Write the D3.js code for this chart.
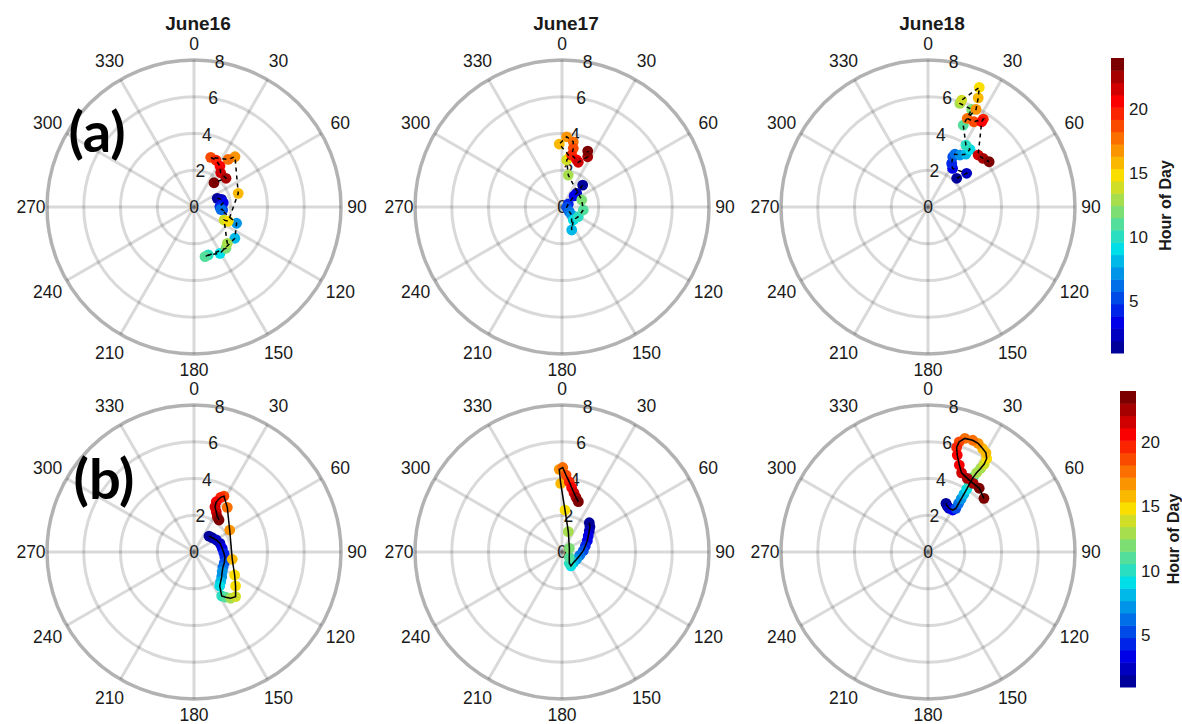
<!DOCTYPE html>
<html>
<head>
<meta charset="utf-8">
<script src="https://cdn.jsdelivr.net/npm/d3@7"></script>
<style>
	body { margin: 0; background: #fff; }
	svg { display: block; }
	text { font-family: "Liberation Sans", Arial, sans-serif; fill: #1a1a1a; }
</style>
</head>
<body>
<svg id="chart" width="1182" height="724"></svg>
<script>
const dayTitles = ["June16", "June17", "June18"];
const angleTicks = d3.range(0, 360, 30);
const radialTicks = [0, 2, 4, 6, 8];
const colorTicks = [5, 10, 15, 20];

// row (a): hourly values, dashed line
const hourA = d3.range(1, 25);
const thetaA16 = [69.5, 74.5, 81.6, 89, 96, 95, 110.9, 127.4, 150.7, 163.4, 167.5, 142.2, 137.5, 113.4, 112.6, 72.8, 39.2, 35.7, 18.6, 25.1, 32.4, 37.9, 48.1, 39.5];
const speedA16 = [1.35, 1.56, 1.61, 1.41, 1.57, 1.46, 2.48, 2.80, 2.89, 2.72, 2.77, 2.84, 2.68, 1.78, 2.02, 2.52, 3.53, 3.19, 2.85, 2.82, 2.64, 2.36, 2.34, 1.71];
const thetaA17 = [43.3, 47, 47.5, 64.5, 93, 122.8, 129.5, 157.1, 139, 120.8, 98, 70.4, 11.1, 5.7, 9, 357.5, 3.8, 9.8, 10.9, 10.6, 17.4, 20, 27.1, 24.7];
const speedA17 = [1.64, 1.09, 0.89, 0.38, 0.26, 0.47, 0.68, 1.36, 0.94, 1.03, 1.17, 1.14, 1.77, 2.57, 2.77, 3.43, 3.83, 3.60, 3.25, 2.87, 2.68, 2.59, 3.07, 3.35];
const thetaA18 = [45, 48.9, 32.5, 28.5, 26.2, 27, 31.6, 35.6, 36, 31.5, 23.3, 24.1, 17.1, 17.5, 23.2, 24.7, 26.2, 23.9, 28.3, 32.2, 32.2, 44, 48.6, 53.5];
const speedA18 = [2.21, 2.79, 2.49, 2.70, 3.05, 3.23, 3.32, 3.54, 3.88, 3.95, 4.85, 5.82, 5.90, 6.10, 7.08, 6.54, 5.92, 5.27, 5.27, 5.65, 5.48, 3.93, 4.00, 4.14];

// row (b): denser track, solid line
const hourB16 = [1, 1.5, 2, 2.5, 3, 4, 4.5, 5, 6, 7, 7.5, 8.5, 9.5, 10.5, 11.5, 12.5, 13.5, 14.5, 15, 16, 17, 18, 19, 20, 21, 21.5, 22, 23, 24];
const thetaB16 = [43.2, 52, 61.7, 71.5, 82.6, 92.5, 99.7, 109.5, 117.8, 124.8, 131.7, 138, 142.9, 147.8, 145, 141.6, 137, 129.2, 119.5, 100.8, 58.4, 36.7, 28.2, 26, 23.9, 24.9, 29, 33.4, 38];
const speedB16 = [1.19, 1.26, 1.38, 1.49, 1.55, 1.63, 1.71, 1.75, 1.78, 1.87, 2.02, 2.17, 2.32, 2.83, 3.0, 3.21, 3.32, 2.92, 2.54, 2.12, 2.28, 3.03, 3.45, 3.31, 2.99, 2.71, 2.50, 2.30, 2.21];
const hourB17 = [1, 1.5, 2, 3, 3.5, 4.5, 5.5, 6.5, 7.5, 8.5, 9.5, 10.5, 11, 12, 13, 14.5, 16, 17, 17.5, 19, 20, 21, 22, 23, 24];
const thetaB17 = [43, 47.9, 52.4, 58.7, 65.9, 75.6, 86.5, 100.4, 116.4, 133.4, 147.3, 147.1, 126, 63, 17.2, 4.1, 358.9, 358.1, 0.5, 3, 5.9, 8.5, 11.4, 14.4, 18];
const speedB17 = [2.18, 2.05, 1.87, 1.67, 1.51, 1.31, 1.16, 0.99, 0.89, 0.85, 0.90, 0.73, 0.49, 0.45, 1.16, 2.29, 3.73, 4.50, 4.60, 4.19, 3.84, 3.55, 3.29, 3.07, 2.88];
const hourB18 = [1, 1.5, 2.5, 3.5, 5, 6.5, 7.5, 8.5, 9.5, 10.5, 11.5, 12.5, 13, 14, 15, 15.5, 16, 17, 17.5, 18, 19, 20, 20.5, 21, 22, 22.5, 23, 23.5, 24];
const thetaB18 = [20.3, 22.8, 26, 30.5, 32.6, 32.2, 32, 31.8, 31.6, 31.3, 31.2, 31.5, 32.2, 32.6, 32.1, 30.3, 27.8, 24.8, 21.8, 18, 15.8, 15.3, 16.8, 19.8, 23, 28.1, 33.4, 38.8, 46.2];
const speedB18 = [2.82, 2.71, 2.64, 2.65, 2.82, 3.13, 3.41, 3.71, 4.02, 4.33, 4.75, 5.06, 5.37, 5.68, 6.01, 6.25, 6.37, 6.51, 6.55, 6.50, 6.23, 5.90, 5.51, 5.03, 4.68, 4.54, 4.47, 4.45, 4.22];

// MATLAB style jet(m), toned down a little like the printed figure
function jet(m) {
	const n = Math.ceil(m / 4);
	const u = [];
	for (let i = 1; i <= n; i++) u.push(i / n);
	for (let i = 1; i < n; i++) u.push(1);
	for (let i = n; i >= 1; i--) u.push(i / n);
	const g0 = Math.ceil(n / 2) - (m % 4 === 1 ? 1 : 0);
	const out = d3.range(m).map(() => [0, 0, 0]);
	u.forEach((val, k) => {
		const g = g0 + k + 1;
		if (g >= 1 && g <= m) out[g - 1][1] = val;
		if (g + n >= 1 && g + n <= m) out[g + n - 1][0] = val;
		if (g - n >= 1 && g - n <= m) out[g - n - 1][2] = val;
	});
	return out.map(c => d3.rgb(c[0] * 250, c[1] * 222, c[2] * 232).formatHex());
}

const color = d3.scaleQuantize().domain([1, 24]).range(jet(24));

const svg = d3.select("#chart");
const R = 147;
const rScale = d3.scaleLinear().domain([0, 8]).range([0, R]);
const colX = [194, 562, 928];
const rowY = [207, 552];

function toRad(deg) { return deg * Math.PI / 180; }

function drawPanel(cx, cy, title, hours, theta, speed, dashed) {
	const g = svg.append("g").attr("transform", `translate(${cx},${cy})`);

	// rings
	g.selectAll("circle.ring")
		.data(radialTicks.filter(d => d > 0 && d < 8))
		.enter().append("circle")
		.attr("r", d => rScale(d))
		.attr("fill", "none")
		.attr("stroke", "#000")
		.attr("stroke-opacity", 0.15)
		.attr("stroke-width", 3);

	// spokes
	g.selectAll("line.spoke")
		.data(angleTicks)
		.enter().append("line")
		.attr("x1", 0).attr("y1", 0)
		.attr("x2", d => d3.pointRadial(toRad(d), R)[0])
		.attr("y2", d => d3.pointRadial(toRad(d), R)[1])
		.attr("stroke", "#000")
		.attr("stroke-opacity", 0.15)
		.attr("stroke-width", 3);

	// outer ring
	g.append("circle")
		.attr("r", rScale(8))
		.attr("fill", "none")
		.attr("stroke", "#000")
		.attr("stroke-opacity", 0.3)
		.attr("stroke-width", 3.5);

	// angle labels
	g.selectAll("text.ang")
		.data(angleTicks)
		.enter().append("text")
		.attr("x", d => d3.pointRadial(toRad(d), d % 90 === 0 ? 163 : 169)[0])
		.attr("y", d => d3.pointRadial(toRad(d), d % 90 === 0 ? 163 : 169)[1])
		.attr("text-anchor", "middle")
		.attr("dominant-baseline", "central")
		.style("font-size", "17.5px")
		.text(d => d);

	// radial labels
	g.selectAll("text.rad")
		.data(radialTicks)
		.enter().append("text")
		.attr("x", d => d3.pointRadial(toRad(10), rScale(d))[0])
		.attr("y", d => d3.pointRadial(toRad(10), rScale(d))[1])
		.attr("text-anchor", "middle")
		.attr("dominant-baseline", "central")
		.style("font-size", "17.5px")
		.text(d => d);

	if (title) {
		g.append("text")
			.attr("x", 4)
			.attr("y", 23 - cy)
			.attr("text-anchor", "middle")
			.attr("dominant-baseline", "central")
			.style("font-size", "19px")
			.style("font-weight", "bold")
			.text(title);
	}

	const pts = hours.map((h, i) => {
		const p = d3.pointRadial(toRad(theta[i]), rScale(speed[i]));
		return { h: h, x: p[0], y: p[1] };
	});

	g.selectAll("circle.pt")
		.data(pts)
		.enter().append("circle")
		.attr("cx", d => d.x)
		.attr("cy", d => d.y)
		.attr("r", 5.4)
		.attr("fill", d => color(d.h));

	g.append("path")
		.datum(pts)
		.attr("d", d3.line().x(d => d.x).y(d => d.y))
		.attr("fill", "none")
		.attr("stroke", "#000")
		.attr("stroke-width", 1.5)
		.attr("stroke-dasharray", dashed ? "4,4" : null);
}

drawPanel(colX[0], rowY[0], dayTitles[0], hourA, thetaA16, speedA16, true);
drawPanel(colX[1], rowY[0], dayTitles[1], hourA, thetaA17, speedA17, true);
drawPanel(colX[2], rowY[0], dayTitles[2], hourA, thetaA18, speedA18, true);
drawPanel(colX[0], rowY[1], null, hourB16, thetaB16, speedB16, false);
drawPanel(colX[1], rowY[1], null, hourB17, thetaB17, speedB17, false);
drawPanel(colX[2], rowY[1], null, hourB18, thetaB18, speedB18, false);

// panel letters
svg.append("text")
	.attr("x", 97).attr("y", 130)
	.attr("text-anchor", "middle")
	.attr("dominant-baseline", "central")
	.style("font-family", "Lato, 'Open Sans', sans-serif")
	.style("font-weight", "bold")
	.style("font-size", "56px")
	.style("fill", "#000")
	.text("(a)");
svg.append("text")
	.attr("x", 104).attr("y", 477)
	.attr("text-anchor", "middle")
	.attr("dominant-baseline", "central")
	.style("font-family", "Lato, 'Open Sans', sans-serif")
	.style("font-weight", "bold")
	.style("font-size", "56px")
	.style("fill", "#000")
	.text("(b)");

// colorbars
function drawColorbar(x, y0, y1, w, labelX) {
	const y = d3.scaleLinear().domain([1, 24]).range([y1, y0]);
	const g = svg.append("g");
	g.selectAll("rect")
		.data(color.range())
		.enter().append("rect")
		.attr("x", x)
		.attr("y", d => y(color.invertExtent(d)[1]))
		.attr("width", w)
		.attr("height", d => y(color.invertExtent(d)[0]) - y(color.invertExtent(d)[1]) + 0.5)
		.attr("fill", d => d);
	g.selectAll("text.tick")
		.data(colorTicks)
		.enter().append("text")
		.attr("x", x + w + 5)
		.attr("y", d => y(d))
		.attr("dominant-baseline", "central")
		.style("font-size", "17px")
		.text(d => d);
	g.append("text")
		.attr("transform", `translate(${labelX},${(y0 + y1) / 2}) rotate(-90)`)
		.attr("text-anchor", "middle")
		.attr("dominant-baseline", "central")
		.style("font-size", "16px")
		.style("font-weight", "bold")
		.text("Hour of Day");
}

drawColorbar(1111, 58, 353, 13, 1165);
drawColorbar(1120, 391, 687, 16, 1173);
</script>
</body>
</html>
